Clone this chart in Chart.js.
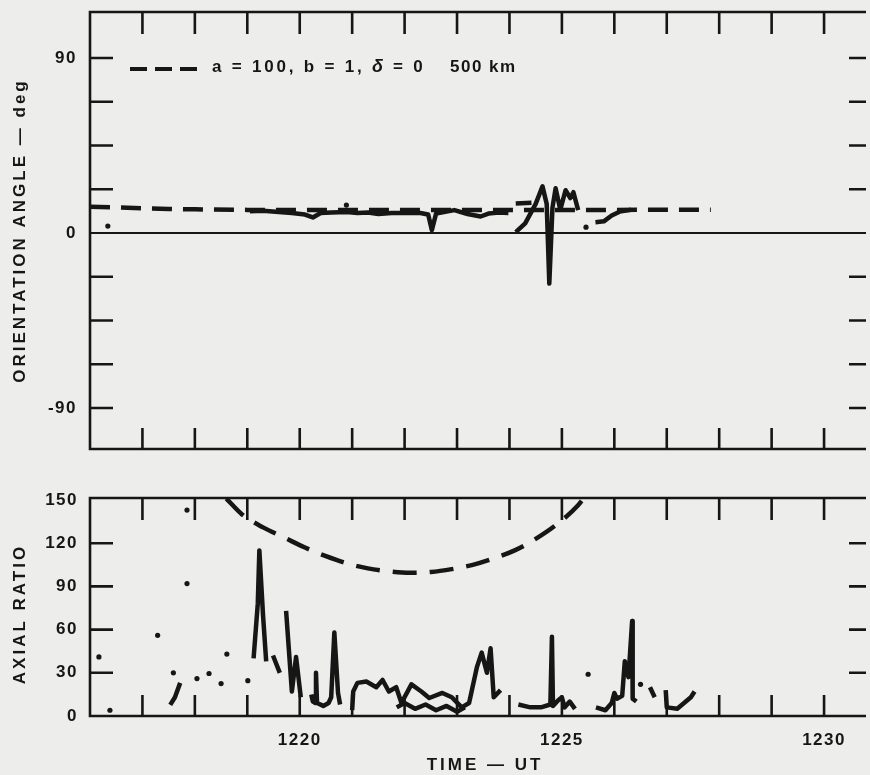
<!DOCTYPE html>
<html>
<head>
<meta charset="utf-8">
<script src="https://cdn.jsdelivr.net/npm/chart.js@4.4.1/dist/chart.umd.min.js"></script>
<style>
    html, body { margin: 0; padding: 0; background: #ededeb; overflow: hidden; }
    #wrap { position: relative; width: 870px; height: 775px; }
    #angleBox { position: absolute; left: 0; top: 0; width: 870px; height: 460px; }
    #ratioBox { position: absolute; left: 0; top: 480px; width: 870px; height: 295px; }
</style>
</head>
<body>
<div id="wrap">
    <div id="angleBox"><canvas id="angleChart"></canvas></div>
    <div id="ratioBox"><canvas id="ratioChart"></canvas></div>
</div>
<script>
// eixo de tempo (minutos UT)
const timeMin = 1216;
const timeMax = 1230.8;
const minuteTicks = [1217, 1218, 1219, 1220, 1221, 1222, 1223, 1224, 1225, 1226, 1227, 1228, 1229, 1230];
const timeLabels = [1220, 1225, 1230];

// painel de cima: orientation angle
const angleTickMarks = [-90, -67.5, -45, -22.5, 22.5, 45, 67.5, 90];
const angleLabels = [-90, 0, 90];

const modelAngleTime = [1216, 1216.5, 1217, 1217.5, 1218, 1219, 1221, 1223, 1225, 1227, 1227.84];
const modelAngle = [13.5, 13.2, 12.7, 12.4, 12.2, 11.9, 11.8, 11.8, 11.8, 12.0, 12.0];

const measAngleTime = [
    1219.05, 1219.3, 1219.6, 1219.85, 1220.1, 1220.25, 1220.4, 1220.6, 1220.9, 1221.1, 1221.3, 1221.5,
    1221.75, 1222.0, 1222.3, 1222.45, 1222.52, 1222.6, 1222.8, 1222.95, 1223.2, 1223.45, 1223.6, 1223.8, 1223.98,
    1224.05,
    1224.12, 1224.3, 1224.5, 1224.63, 1224.71, 1224.76, 1224.82, 1224.88, 1224.97, 1225.07, 1225.16, 1225.22, 1225.31,
    1225.4,
    1225.64, 1225.8, 1225.95, 1226.1, 1226.32,
    1226.35,
    1224.12, 1224.42
];
const measAngle = [
    11.2, 11.5, 10.8, 10.3, 9.5, 8.0, 10.3, 10.6, 10.8, 10.3, 10.6, 9.8,
    10.3, 10.3, 10.3, 9.5, 1.5, 10.0, 11.0, 11.8, 9.8, 8.5, 10.0, 10.5, 10.3,
    null,
    0.5, 5, 15, 24, 15, -26, 13, 23, 12, 22, 18, 21, 11.8,
    null,
    5.6, 6, 9, 11, 12,
    null,
    15.2, 15.6
];

const dotAngleTime = [1216.34, 1220.89, 1225.46];
const dotAngle = [3.6, 14.4, 3];

// painel de baixo: axial ratio
const ratioTickMarks = [30, 60, 90, 120];
const ratioLabels = [0, 30, 60, 90, 120, 150];

const modelRatioTime = [1218.6, 1218.9, 1219.3, 1219.7, 1220.1, 1220.5, 1220.9, 1221.3, 1221.7, 1222.1,
    1222.5, 1222.9, 1223.3, 1223.7, 1224.1, 1224.5, 1224.9, 1225.3, 1225.45];
const modelRatio = [151, 140, 131, 124, 117, 111, 106, 102.5, 100.5, 99.5,
    100, 102, 105, 109.5, 115, 123, 133, 146, 153];

const measRatioTime = [
    1217.53, 1217.62, 1217.72, 1217.8,
    1219.12, 1219.2, 1219.23, 1219.3, 1219.36, 1219.4,
    1219.49, 1219.62, 1219.7,
    1219.74, 1219.85, 1219.93, 1220.02, 1220.1,
    1220.22, 1220.25, 1220.3, 1220.31, 1220.33, 1220.45, 1220.55, 1220.6, 1220.66, 1220.73, 1220.77, 1220.9,
    1221.0, 1221.02, 1221.1, 1221.27, 1221.46, 1221.58, 1221.7, 1221.84, 1221.94, 1222.13, 1222.32, 1222.47,
    1222.72, 1222.9, 1223.09, 1223.23, 1223.38, 1223.47, 1223.57, 1223.64, 1223.7, 1223.83, 1223.9,
    1221.85, 1222.0, 1222.2, 1222.4, 1222.6, 1222.8, 1223.0, 1223.15, 1223.2,
    1224.17, 1224.4, 1224.6, 1224.78, 1224.81, 1224.83, 1224.93, 1225.0, 1225.05, 1225.15, 1225.25, 1225.3,
    1225.65, 1225.83, 1225.95, 1226.0, 1226.05, 1226.15, 1226.2, 1226.27, 1226.34, 1226.35, 1226.42, 1226.5,
    1226.68, 1226.77, 1226.8,
    1226.98, 1227.0, 1227.2, 1227.46, 1227.53
];
const measRatio = [
    7.7, 13, 23, null,
    40, 78, 115, 70, 38, null,
    42, 30, null,
    73, 17, 41, 13, null,
    15, 10, 9, 30, 9, 7, 9, 13, 58, 16, 8, null,
    4, 17, 23, 24, 20, 25, 17, 20, 9, 22, 17, 12.5,
    16, 13, 6, 9, 34, 44, 30, 47, 13, 18, null,
    6, 9, 5, 8, 4, 7, 3, 6, null,
    8, 6, 6, 8, 55, 7, 11, 13, 6, 10, 5, null,
    6, 4, 9, 16, 12, 14, 38, 27, 66, 12, 10, null,
    20, 13, null,
    18, 6, 5, 13, 17
];

const dotRatioTime = [1216.17, 1216.38, 1217.29, 1217.59, 1217.85, 1217.85, 1218.04, 1218.27, 1218.5,
    1218.61, 1219.01, 1225.5, 1226.5];
const dotRatio = [41, 4, 56, 30, 143, 92, 26, 29.5, 22.5, 43, 24.5, 29, 22];

const legendText = 'a = 100, b = 1,';
const legendDelta = 'δ';
const legendRest = '= 0';
const legendAlt = '500 km';

const ink = '#161616';
const fonte = "bold 17px 'Liberation Sans', Arial, sans-serif";

function pontos(tempos, valores) {
    return tempos.map((t, i) => ({ x: t, y: valores[i] }));
}

// moldura, ticks para dentro e linha do zero
const frame = {
    id: 'frame',
    beforeDraw(chart) {
        chart.ctx.letterSpacing = '1.5px';
    },
    afterDraw(chart, args, opts) {
        const ctx = chart.ctx;
        const a = chart.chartArea;
        const x = chart.scales.x;
        const y = chart.scales.y;
        ctx.save();
        ctx.strokeStyle = ink;
        ctx.lineWidth = 2.6;
        ctx.lineCap = 'butt';
        ctx.beginPath();
        ctx.moveTo(a.right, a.top);
        ctx.lineTo(a.left, a.top);
        ctx.lineTo(a.left, a.bottom);
        ctx.lineTo(a.right, a.bottom);
        ctx.stroke();

        ctx.beginPath();
        opts.xTicks.forEach(v => {
            const px = x.getPixelForValue(v);
            ctx.moveTo(px, a.top);
            ctx.lineTo(px, a.top + 22);
            ctx.moveTo(px, a.bottom);
            ctx.lineTo(px, a.bottom - 21);
        });
        opts.yTicks.forEach(v => {
            const py = y.getPixelForValue(v);
            ctx.moveTo(a.left, py);
            ctx.lineTo(a.left + 23, py);
            ctx.moveTo(a.right - 17, py);
            ctx.lineTo(a.right, py);
        });
        ctx.stroke();

        if (opts.zero) {
            ctx.lineWidth = 2;
            ctx.beginPath();
            const z = y.getPixelForValue(0);
            ctx.moveTo(a.left, z);
            ctx.lineTo(a.right, z);
            ctx.stroke();
        }

        // titulos dos eixos
        ctx.fillStyle = ink;
        ctx.font = fonte;
        ctx.letterSpacing = '3px';
        ctx.textAlign = 'center';
        ctx.textBaseline = 'middle';
        if (opts.yTitle) {
            ctx.save();
            ctx.translate(20, (a.top + a.bottom) / 2 + (opts.yTitleShift || 0));
            ctx.rotate(-Math.PI / 2);
            ctx.fillText(opts.yTitle, 0, 0);
            ctx.restore();
        }
        if (opts.xTitle) {
            ctx.fillText(opts.xTitle, (a.left + a.right) / 2 + 7, chart.height - 10);
        }
        ctx.restore();
    }
};

// legenda dentro do painel de cima
const legenda = {
    id: 'legenda',
    afterDraw(chart) {
        const ctx = chart.ctx;
        ctx.save();
        ctx.strokeStyle = ink;
        ctx.lineWidth = 4;
        ctx.setLineDash([17, 8]);
        ctx.beginPath();
        ctx.moveTo(130, 69);
        ctx.lineTo(200, 69);
        ctx.stroke();
        ctx.setLineDash([]);
        ctx.fillStyle = ink;
        ctx.letterSpacing = '2.8px';
        ctx.textBaseline = 'middle';
        ctx.textAlign = 'left';
        ctx.font = fonte;
        ctx.fillText(legendText, 212, 67);
        ctx.fillText(legendRest, 393, 67);
        ctx.letterSpacing = '1.5px';
        ctx.fillText(legendAlt, 450, 67);
        ctx.font = "italic bold 18px 'Liberation Sans', Arial, sans-serif";
        ctx.fillText(legendDelta, 372, 67);
        ctx.restore();
    }
};

const tickFont = { family: "'Liberation Sans', Arial, sans-serif", size: 17, weight: 'bold' };

new Chart(document.getElementById('angleChart'), {
    type: 'scatter',
    data: {
        datasets: [
            {
                data: pontos(modelAngleTime, modelAngle),
                showLine: true, borderColor: ink, borderWidth: 4.5, borderDash: [20, 11],
                pointRadius: 0
            },
            {
                data: pontos(measAngleTime, measAngle),
                showLine: true, spanGaps: false, borderColor: ink, borderWidth: 4.5,
                borderJoinStyle: 'round', pointRadius: 0
            },
            {
                data: pontos(dotAngleTime, dotAngle),
                pointRadius: 2.6, backgroundColor: ink, borderWidth: 0
            }
        ]
    },
    options: {
        responsive: true,
        maintainAspectRatio: false,
        animation: false,
        events: [],
        layout: { padding: { top: 12, bottom: 11, left: 0, right: 0 } },
        plugins: {
            legend: { display: false },
            tooltip: { enabled: false },
            frame: {
                xTicks: minuteTicks, yTicks: angleTickMarks, zero: true,
                yTitle: 'ORIENTATION ANGLE — deg'
            }
        },
        scales: {
            x: { type: 'linear', min: timeMin, max: timeMax, display: false },
            y: {
                min: -111.1, max: 113.7,
                grid: { display: false, drawTicks: false },
                border: { display: false },
                ticks: { color: ink, font: tickFont, padding: 13, callback: v => String(v) },
                afterBuildTicks: s => { s.ticks = angleLabels.map(v => ({ value: v })) },
                afterFit: s => { s.width = 90; s.paddingTop = 0; s.paddingBottom = 0; }
            }
        }
    },
    plugins: [frame, legenda]
});

new Chart(document.getElementById('ratioChart'), {
    type: 'scatter',
    data: {
        datasets: [
            {
                data: pontos(modelRatioTime, modelRatio),
                showLine: true, borderColor: ink, borderWidth: 4.5, borderDash: [24, 13],
                cubicInterpolationMode: 'monotone', pointRadius: 0
            },
            {
                data: pontos(measRatioTime, measRatio),
                showLine: true, spanGaps: false, borderColor: ink, borderWidth: 4.5,
                borderJoinStyle: 'round', pointRadius: 0
            },
            {
                data: pontos(dotRatioTime, dotRatio),
                pointRadius: 2.6, backgroundColor: ink, borderWidth: 0
            }
        ]
    },
    options: {
        responsive: true,
        maintainAspectRatio: false,
        animation: false,
        events: [],
        layout: { padding: { top: 18, bottom: 0, left: 0, right: 0 } },
        plugins: {
            legend: { display: false },
            tooltip: { enabled: false },
            frame: {
                xTicks: minuteTicks, yTicks: ratioTickMarks, zero: false,
                yTitle: 'AXIAL RATIO', yTitleShift: 7, xTitle: 'TIME — UT'
            }
        },
        scales: {
            x: {
                type: 'linear', min: timeMin, max: timeMax,
                grid: { display: false, drawTicks: false },
                border: { display: false },
                ticks: { color: ink, font: tickFont, padding: 14, maxRotation: 0, callback: v => String(v) },
                afterBuildTicks: s => { s.ticks = timeLabels.map(v => ({ value: v })) },
                afterFit: s => { s.height = 59 }
            },
            y: {
                min: 0, max: 151.4,
                grid: { display: false, drawTicks: false },
                border: { display: false },
                ticks: { color: ink, font: tickFont, padding: 12, callback: v => String(v) },
                afterBuildTicks: s => { s.ticks = ratioLabels.map(v => ({ value: v })) },
                afterFit: s => { s.width = 90; s.paddingTop = 0; s.paddingBottom = 0; }
            }
        }
    },
    plugins: [frame]
});
</script>
</body>
</html>
